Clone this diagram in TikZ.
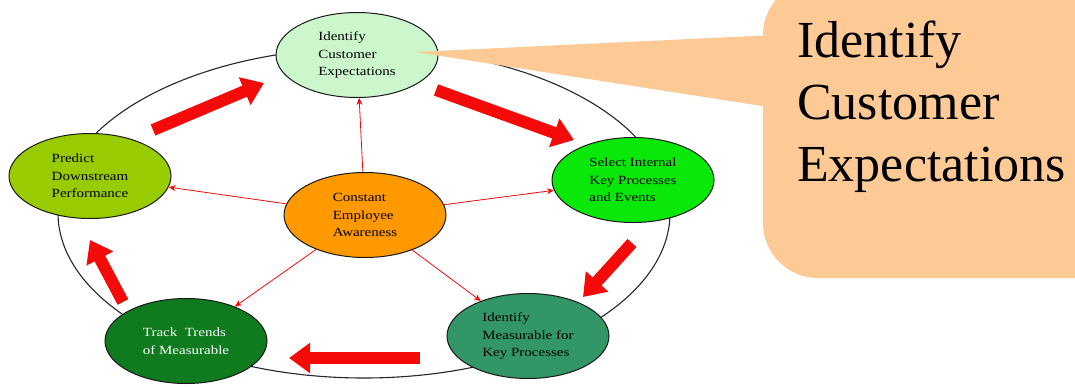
\documentclass[tikz,border=0pt]{standalone}
\usepackage{fontspec}
\setmainfont{Liberation Serif}
\newfontfamily\nodefont[FakeStretch=1.2]{Liberation Serif}
\usetikzlibrary{shapes.geometric,arrows.meta}
\definecolor{cTop}{RGB}{204,247,204}
\definecolor{cLeft}{RGB}{153,204,0}
\definecolor{cRight}{RGB}{10,232,10}
\definecolor{cCenter}{RGB}{255,153,0}
\definecolor{cBL}{RGB}{15,122,30}
\definecolor{cBR}{RGB}{51,150,102}
\definecolor{cCallout}{RGB}{253,202,150}
\definecolor{cRed}{RGB}{245,10,10}
\begin{document}
\begin{tikzpicture}[x=1pt,y=-1pt,
  stage/.style={ellipse, draw=black!90, line width=1pt, minimum width=162pt,
    minimum height=85pt, inner sep=0pt, align=left,
    font=\nodefont\fontsize{12.5}{17.5}\selectfont},
  thinarrow/.style={draw=cRed, line width=0.8pt, -{Stealth[length=7pt,width=6pt]}},
  blockarrow/.style={draw=cRed, line width=12pt, -{Triangle[length=21pt,width=29pt]}},
  callout/.style={fill=cCallout},
  ring/.style={draw=black!85, line width=1.1pt}]
\useasboundingbox (0,0) rectangle (1075,386);
\clip (0,0) rectangle (1075,386);
% outer ring
\draw[ring] (364,213) ellipse [x radius=306, y radius=165];
% stages
\node[stage, fill=cTop] (top) at (357,55) {Identify\\Customer\\Expectations};
\node[stage, fill=cLeft] (left) at (90,176) {Predict\\Downstream\\Performance};
\node[stage, fill=cRight] (right) at (633,180) {Select Internal\\Key Processes\\and Events};
\node[stage, fill=cCenter] (center) at (365,215) {Constant\\Employee\\Awareness};
\node[stage, fill=cBL, text=white] (bl) at (186,341) {Track\ \ Trends\\of Measurable};
\node[stage, fill=cBR] (br) at (528,336) {Identify\\Measurable for\\Key Processes};
% thin arrows from center
\draw[thinarrow] (center) -- (top);
\draw[thinarrow] (center) -- (left);
\draw[thinarrow] (center) -- (right);
\draw[thinarrow] (center) -- (bl);
\draw[thinarrow] (center) -- (br);
% block arrows around the ring
\coordinate (a1s) at (153,130); \coordinate (a1e) at (264,83);
\coordinate (a2s) at (436,90);  \coordinate (a2e) at (574,140);
\coordinate (a3s) at (632,243); \coordinate (a3e) at (583,297);
\coordinate (a4s) at (420,358); \coordinate (a4e) at (289,358);
\coordinate (a5s) at (123,302); \coordinate (a5e) at (90,240);
\draw[blockarrow] (a1s) -- (a1e);
\draw[blockarrow] (a2s) -- (a2e);
\draw[blockarrow] (a3s) -- (a3e);
\draw[blockarrow] (a4s) -- (a4e);
\draw[blockarrow] (a5s) -- (a5e);
% callout
\fill[callout] (415,52) -- (775,35) -- (775,108) -- cycle;
\fill[callout, rounded corners=55pt] (763,-20) rectangle (1130,278);
\node[anchor=north west, inner sep=0pt, align=left,
  font=\fontsize{52}{62}\selectfont] (callouttext) at (797,21)
  {Identify\\Customer\\Expectations};
\end{tikzpicture}
\end{document}
